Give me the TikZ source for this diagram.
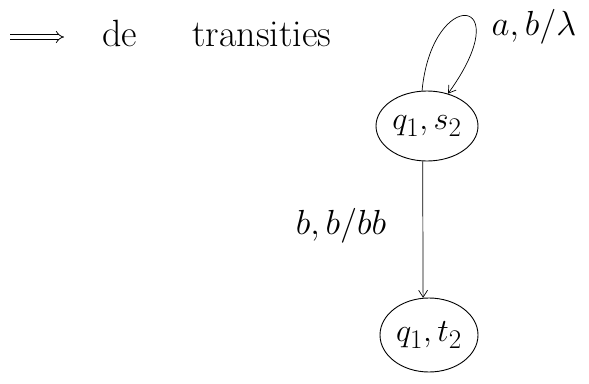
\documentclass[tikz,border=0pt]{standalone}
\usepackage{graphicx}
\usetikzlibrary{shapes.geometric,arrows.meta}
\newcommand{\bigmath}[2]{\scalebox{#1}{\fontsize{24.88}{30}\selectfont$#2$}}
\begin{document}
\begin{tikzpicture}[x=1pt,y=-1pt,
  statebox/.style={draw,ellipse,line width=0.9pt,inner sep=0pt},
  arr/.style={line width=0.7pt,-{Straight Barb[length=7pt,width=9pt]}},
  lbl/.style={inner sep=0pt},
  head/.style={inner sep=0pt,anchor=base,font=\fontsize{38}{44}\selectfont},
  implies/.style={double,double distance=3.5pt,line width=0.8pt,-{Implies}}]
\useasboundingbox (0,0) rectangle (589,383);
% heading
\coordinate (ha) at (10,37);
\coordinate (hb) at (64,37);
\draw[implies] (ha) -- (hb);
\node[head] (hde) at (120,46) {de};
\node[head] (htr) at (262,46) {transities};
% states
\node[statebox,minimum width=102pt,minimum height=70pt] (n1) at (427,126) {\bigmath{1.3}{q_1,s_2}};
\node[statebox,minimum width=98pt,minimum height=74pt] (n2) at (429,335) {\bigmath{1.3}{q_1,t_2}};
% loop
\coordinate (c1) at (432,-14);
\coordinate (c2) at (520,-6);
\draw[arr] (n1.98) .. controls (c1) and (c2) .. (n1.57);
\node[lbl] (l1) at (534,27) {\bigmath{1.4}{a,b/\lambda}};
% transition
\draw[arr] (n1.263) -- (n2.99);
\node[lbl] (l2) at (341,226) {\bigmath{1.4}{b,b/bb}};
\end{tikzpicture}
\end{document}
